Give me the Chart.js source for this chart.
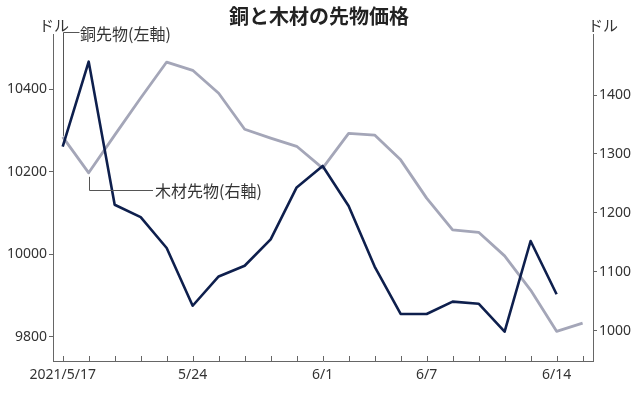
<!DOCTYPE html>
<html>
<head>
<meta charset="utf-8">
<script src="https://cdn.jsdelivr.net/npm/chart.js@4.4.1/dist/chart.umd.min.js"></script>
<style>
  html, body { margin: 0; padding: 0; background: #fff; }
  #wrap { width: 638px; height: 399px; }
</style>
</head>
<body>
<div id="wrap"><canvas id="c" width="638" height="399"></canvas></div>
<script>
// Trading days shown on the x axis
const dates = ['2021/5/17','5/18','5/19','5/20','5/21','5/24','5/25','5/26','5/27','5/28',
               '6/1','6/2','6/3','6/4','6/7','6/8','6/9','6/10','6/11','6/14','6/15'];
const labeledDates = ['2021/5/17','5/24','6/1','6/7','6/14'];
// Copper futures (USD, left axis)
const copper = [10261,10467,10120,10090,10015,9875,9946,9972,10036,10162,10214,
                10117,9970,9855,9855,9885,9880,9812,10032,9903,null];
// Lumber futures (USD, right axis)
const lumber = [1329,1268,1332,1395,1456,1442,1403,1342,1327,1313,1276,
                1335,1332,1290,1225,1171,1167,1127,1069,999,1013];
const leftTicks = [9800,10000,10200,10400];
const rightTicks = [1000,1100,1200,1300,1400];

const title = '銅と木材の先物価格';
const unitLabel = 'ドル';
const copperLabel = '銅先物(左軸)';
const lumberLabel = '木材先物(右軸)';

const tickFont = { family: '"Noto Sans", sans-serif', size: 14 };
const axisColor = '#666';
const textColor = '#333';

const annot = {
  id: 'annot',
  afterDraw(chart) {
    const ctx = chart.ctx;
    const xs = chart.scales.x, yR = chart.scales.yR, area = chart.chartArea;
    ctx.save();
    // inward x ticks
    ctx.strokeStyle = axisColor; ctx.lineWidth = 1;
    ctx.beginPath();
    dates.forEach((d, i) => {
      const px = Math.round(xs.getPixelForValue(i)) + 0.5;
      ctx.moveTo(px, area.bottom); ctx.lineTo(px, area.bottom - 5);
    });
    ctx.stroke();
    // unit labels
    ctx.fillStyle = textColor;
    ctx.font = '15px "Noto Sans CJK JP"';
    ctx.textBaseline = 'middle'; ctx.textAlign = 'left';
    ctx.fillText(unitLabel, 39, 25);
    ctx.fillText(unitLabel, 588, 25);
    // leader lines
    ctx.strokeStyle = '#555';
    const x0 = Math.round(xs.getPixelForValue(0)) + 0.5;
    const y0 = yR.getPixelForValue(lumber[0]) - 1;
    ctx.beginPath();
    ctx.moveTo(x0, y0); ctx.lineTo(x0, 32.5); ctx.lineTo(x0 + 16, 32.5);
    ctx.stroke();
    const x1 = Math.round(xs.getPixelForValue(1)) + 0.5;
    const y1 = yR.getPixelForValue(lumber[1]) + 4;
    ctx.beginPath();
    ctx.moveTo(x1, y1); ctx.lineTo(x1, 190.5); ctx.lineTo(153, 190.5);
    ctx.stroke();
    ctx.font = '16px "Noto Sans CJK JP"';
    ctx.fillText(copperLabel, 80, 34);
    ctx.fillText(lumberLabel, 155, 191);
    ctx.restore();
  }
};

new Chart(document.getElementById('c'), {
  type: 'line',
  data: {
    datasets: [
      { label: copperLabel, data: copper.map((v, i) => ({ x: i, y: v })), yAxisID: 'yL',
        borderColor: '#0e1f4d', borderWidth: 2.6, pointRadius: 0, tension: 0, spanGaps: false,
        borderJoinStyle: 'round' },
      { label: lumberLabel, data: lumber.map((v, i) => ({ x: i, y: v })), yAxisID: 'yR',
        borderColor: '#a4a6b8', borderWidth: 2.8, pointRadius: 0, tension: 0,
        borderJoinStyle: 'round' }
    ]
  },
  options: {
    responsive: false,
    animation: false,
    layout: { padding: 0 },
    plugins: {
      legend: { display: false },
      tooltip: { enabled: false },
      title: { display: true, text: title, color: '#222',
               font: { family: '"Noto Sans CJK JP"', size: 20, weight: 'bold' },
               padding: { top: 4, bottom: 6 } }
    },
    scales: {
      x: {
        type: 'linear', min: -0.373, max: 20.4,
        afterBuildTicks: s => { s.ticks = dates.map((d, i) => ({ value: i })); },
        afterFit: s => { s.height = 38; },
        grid: { display: false, drawTicks: false },
        border: { display: true, color: axisColor, width: 1 },
        ticks: { autoSkip: false, maxRotation: 0, padding: 6, color: textColor, font: tickFont,
                 callback: v => labeledDates.includes(dates[v]) ? dates[v] : '' }
      },
      yL: {
        position: 'left', min: 9741, max: 10534,
        afterBuildTicks: s => { s.ticks = leftTicks.map(v => ({ value: v })); },
        afterFit: s => { s.width = 53; },
        grid: { drawOnChartArea: false, drawTicks: true, tickLength: 4, color: axisColor },
        border: { display: true, color: axisColor, width: 1 },
        ticks: { padding: 2, color: textColor, font: tickFont, callback: v => String(v) }
      },
      yR: {
        position: 'right', min: 948.6, max: 1503.6,
        afterBuildTicks: s => { s.ticks = rightTicks.map(v => ({ value: v })); },
        afterFit: s => { s.width = 45; },
        grid: { drawOnChartArea: false, drawTicks: true, tickLength: 4, color: axisColor },
        border: { display: true, color: axisColor, width: 1 },
        ticks: { padding: 2, color: textColor, font: tickFont, callback: v => String(v) }
      }
    }
  },
  plugins: [annot]
});
</script>
</body>
</html>
